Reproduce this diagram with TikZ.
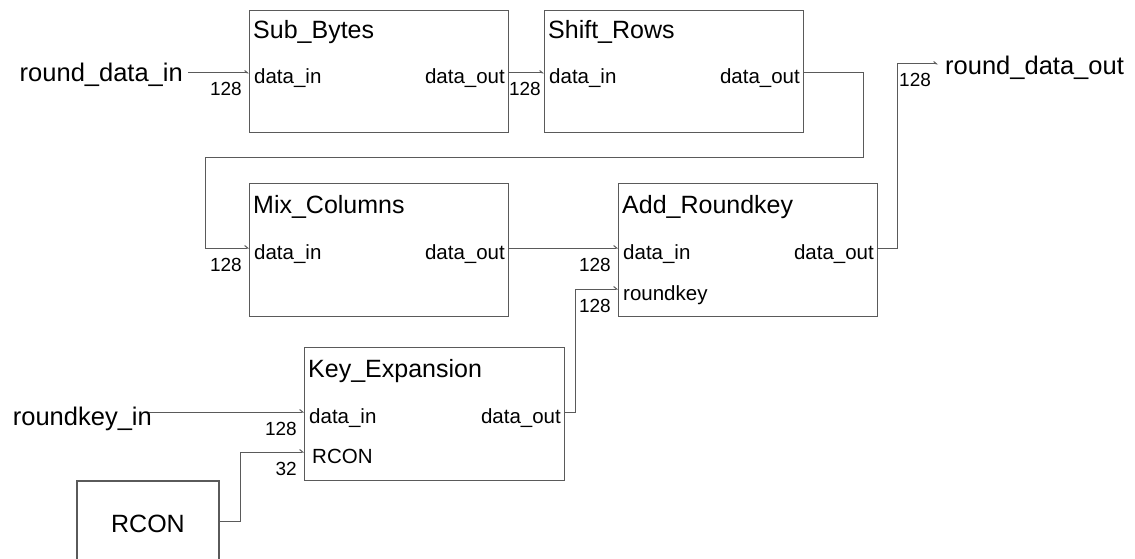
\documentclass[tikz,border=0pt]{standalone}
\usepackage{fontspec}
\setmainfont{Liberation Sans}
\usetikzlibrary{arrows.meta}
\definecolor{wiregray}{RGB}{90,90,90}

\begin{document}
\begin{tikzpicture}[x=1pt,y=-1pt, line join=miter]

\tikzset{
  blk/.style={draw=wiregray, line width=1.25pt, inner sep=0pt, anchor=north west},
  wire/.style={draw=wiregray, line width=1pt, -{Straight Barb[harpoon, length=3pt, width=5pt]}},
  ttl/.style={font=\fontsize{25}{30}\selectfont, inner sep=0pt, anchor=base west},
  ext/.style={font=\fontsize{25.5}{30}\selectfont, inner sep=0pt},
  pinl/.style={font=\fontsize{20.5}{24}\selectfont, inner sep=0pt, anchor=base west, xshift=5pt, yshift=-11pt},
  pinr/.style={font=\fontsize{20.5}{24}\selectfont, inner sep=0pt, anchor=base east, xshift=-3pt, yshift=-11pt},
  bw/.style={font=\fontsize{19}{22}\selectfont, inner sep=0pt, anchor=base east, xshift=-7pt, yshift=-23pt},
}

\clip (0,0) rectangle (1135,559);

% blocks
\node[blk, minimum width=259pt, minimum height=122pt] (sub) at (249,10) {};
\node[blk, minimum width=259pt, minimum height=122pt] (shf) at (544,10) {};
\node[blk, minimum width=259pt, minimum height=133pt] (mix) at (249,183) {};
\node[blk, minimum width=259pt, minimum height=133pt] (add) at (618,183) {};
\node[blk, minimum width=260pt, minimum height=133pt] (key) at (304,347) {};
\node[blk, minimum width=142pt, minimum height=86pt, font=\fontsize{25}{30}\selectfont, anchor=center] (rcon) at (148,524) {RCON};

% titles
\node[ttl] at (253,39) {Sub\_Bytes};
\node[ttl] at (548,39) {Shift\_Rows};
\node[ttl] at (253,213) {Mix\_Columns};
\node[ttl] at (622,213) {Add\_Roundkey};
\node[ttl] at (308,377) {Key\_Expansion};

% pins
\coordinate (subI) at (249,73);
\coordinate (subO) at (508,73);
\coordinate (shfI) at (544,73);
\coordinate (shfO) at (803,73);
\coordinate (mixI) at (249,248);
\coordinate (mixO) at (508,248);
\coordinate (addI) at (618,248);
\coordinate (addK) at (618,289);
\coordinate (addO) at (877,248);
\coordinate (keyI) at (304,412);
\coordinate (keyR) at (304,452);
\coordinate (keyO) at (564,412);
\coordinate (outP) at (938,64);

% pin labels
\node[pinl] at (subI) {data\_in};
\node[pinr] at (subO) {data\_out};
\node[pinl] at (shfI) {data\_in};
\node[pinr] at (shfO) {data\_out};
\node[pinl] at (mixI) {data\_in};
\node[pinr] at (mixO) {data\_out};
\node[pinl] at (addI) {data\_in};
\node[pinl] at (addK) {roundkey};
\node[pinr] at (addO) {data\_out};
\node[pinl] at (keyI) {data\_in};
\node[pinl, xshift=3pt] at (keyR) {RCON};
\node[pinr] at (keyO) {data\_out};

% outside signals
\node[ext, anchor=base east] (rdin) at (183,82) {round\_data\_in};
\node[ext, anchor=base west] (rdout) at (945,75) {round\_data\_out};
\node[ext, anchor=base east] (rkin) at (152,425) {roundkey\_in};

% wires
\draw[wire] ([xshift=5pt]rdin.east |- subI) -- (subI);
\draw[wire] (subO) -- (shfI);
\draw[wire] (shfO) -- ++(60,0) |- ++(-658,85) |- (mixI);
\draw[wire] (mixO) -- (addI);
\draw[wire] (keyO) -- ++(11,0) |- (addK);
\draw[wire] (addO) -- ++(20,0) |- (outP);
\draw[wire] ([xshift=-3pt]rkin.east |- keyI) -- (keyI);
\draw[wire] ([yshift=3pt]rcon.east) -- ++(21,0) |- (keyR);

% bus widths
\node[bw] at (subI) {128};
\node[bw, xshift=4pt] at (shfI) {128};
\node[bw] at (mixI) {128};
\node[bw] at (addI) {128};
\node[bw] at (addK) {128};
\node[bw, anchor=base west, xshift=-32pt] at (outP) {128};
\node[bw] at (keyI) {128};
\node[bw] at (keyR) {32};

\end{tikzpicture}
\end{document}
